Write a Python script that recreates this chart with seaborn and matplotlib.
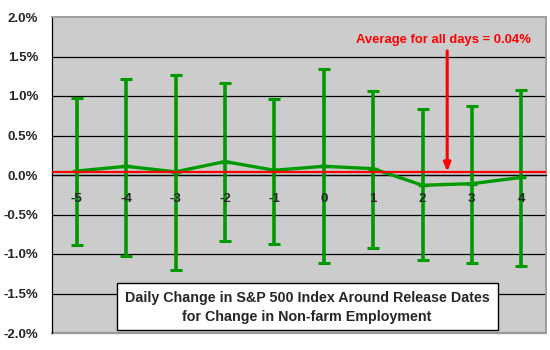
import matplotlib
matplotlib.use("Agg")
import matplotlib.pyplot as plt
import seaborn as sns
import pandas as pd
from matplotlib.ticker import FuncFormatter, MultipleLocator

# Days relative to the release date
days = ["-5", "-4", "-3", "-2", "-1", "0", "1", "2", "3", "4"]
# Average daily change (%) and the ends of the error bars (%)
mean_change = [0.05, 0.11, 0.04, 0.17, 0.06, 0.11, 0.08, -0.13, -0.11, -0.03]
upper = [0.97, 1.22, 1.26, 1.16, 0.96, 1.34, 1.06, 0.83, 0.87, 1.08]
lower = [-0.89, -1.02, -1.20, -0.83, -0.87, -1.12, -0.92, -1.07, -1.11, -1.15]
overall_avg = 0.04

df = pd.DataFrame({"day": days, "pos": range(len(days)), "mean": mean_change,
                   "upper": upper, "lower": lower})

sns.set_style("white")
plt.rcParams["font.family"] = ["Liberation Sans", "DejaVu Sans"]
plt.rcParams["font.weight"] = "bold"

green = "#009900"
fig = plt.figure(figsize=(5.5, 3.5), dpi=100)
ax = fig.add_axes([52 / 550, 17 / 350, 494 / 550, 316 / 350])
ax.set_facecolor("#CCCCCC")

# horizontal gridlines
for yv in [-2.0, -1.5, -1.0, -0.5, 0.0, 0.5, 1.0, 1.5]:
    ax.axhline(yv, color="black", lw=0.9, zorder=1)

yerr = [df["mean"] - df["lower"], df["upper"] - df["mean"]]
ax.errorbar(df["pos"], df["mean"], yerr=yerr, fmt="none", ecolor=green,
            elinewidth=2.6, capsize=4, capthick=2.2, zorder=3)
sns.lineplot(data=df, x="pos", y="mean", color=green, lw=2.4, marker="_",
             markersize=7, markeredgewidth=2.4, markeredgecolor=green,
             ax=ax, zorder=4)

ax.axhline(overall_avg, color="#FF0000", lw=1.6, zorder=5)

ax.annotate("", xy=(7.5, overall_avg), xytext=(7.5, 1.57),
            arrowprops=dict(arrowstyle="-|>,head_length=0.5,head_width=0.2",
                            color="#FF0000", lw=2.2, shrinkA=0, shrinkB=0),
            zorder=6)
ax.text(7.43, 1.71, "Average for all days = 0.04%", color="#FF0000",
        fontsize=9.4, fontweight="bold", ha="center", va="center", zorder=6)

# caption box
box = plt.Rectangle((117 / 550, 1 - 330 / 350), 381 / 550, 47 / 350,
                    transform=fig.transFigure, facecolor="white",
                    edgecolor="black", lw=1.0, zorder=10)
fig.add_artist(box)
fig.text(307 / 550, 1 - 298 / 350,
         "Daily Change in S&P 500 Index Around Release Dates",
         ha="center", va="center", fontsize=10.3, fontweight="bold", zorder=11)
fig.text(307 / 550, 1 - 317 / 350,
         "for Change in Non-farm Employment",
         ha="center", va="center", fontsize=10.3, fontweight="bold", zorder=11)

ax.set_xlim(-0.5, len(days) - 0.5)
ax.set_ylim(-2.0, 2.0)
ax.yaxis.set_major_locator(MultipleLocator(0.5))
ax.yaxis.set_major_formatter(FuncFormatter(lambda v, p: f"{v:.1f}%"))
ax.set_xticks(df["pos"])
ax.set_xticklabels(days)
ax.set_xticks([i + 0.5 for i in range(len(days) - 1)], minor=True)
ax.tick_params(axis="x", which="major", length=0, pad=13, labelsize=9.5)
ax.tick_params(axis="x", which="minor", length=5, width=0.9, color="black",
               direction="out")
ax.tick_params(axis="y", which="major", length=4, width=0.9, color="black",
               direction="out", labelsize=9.5, pad=6)
for lab in ax.get_xticklabels() + ax.get_yticklabels():
    lab.set_fontweight("bold")
ax.xaxis.set_zorder(7)
ax.set_xlabel("")
ax.set_ylabel("")

ax.spines["bottom"].set_position(("data", 0))
ax.spines["bottom"].set_color("black")
ax.spines["bottom"].set_linewidth(0.9)
ax.spines["left"].set_color("black")
ax.spines["left"].set_linewidth(0.9)
for s in ["top", "right"]:
    ax.spines[s].set_color("#999999")
    ax.spines[s].set_linewidth(1.3)
    ax.spines[s].set_visible(True)
ax.axhline(-2.0, color="#999999", lw=1.6, zorder=2, clip_on=False)

fig.savefig("out.png", dpi=100)
